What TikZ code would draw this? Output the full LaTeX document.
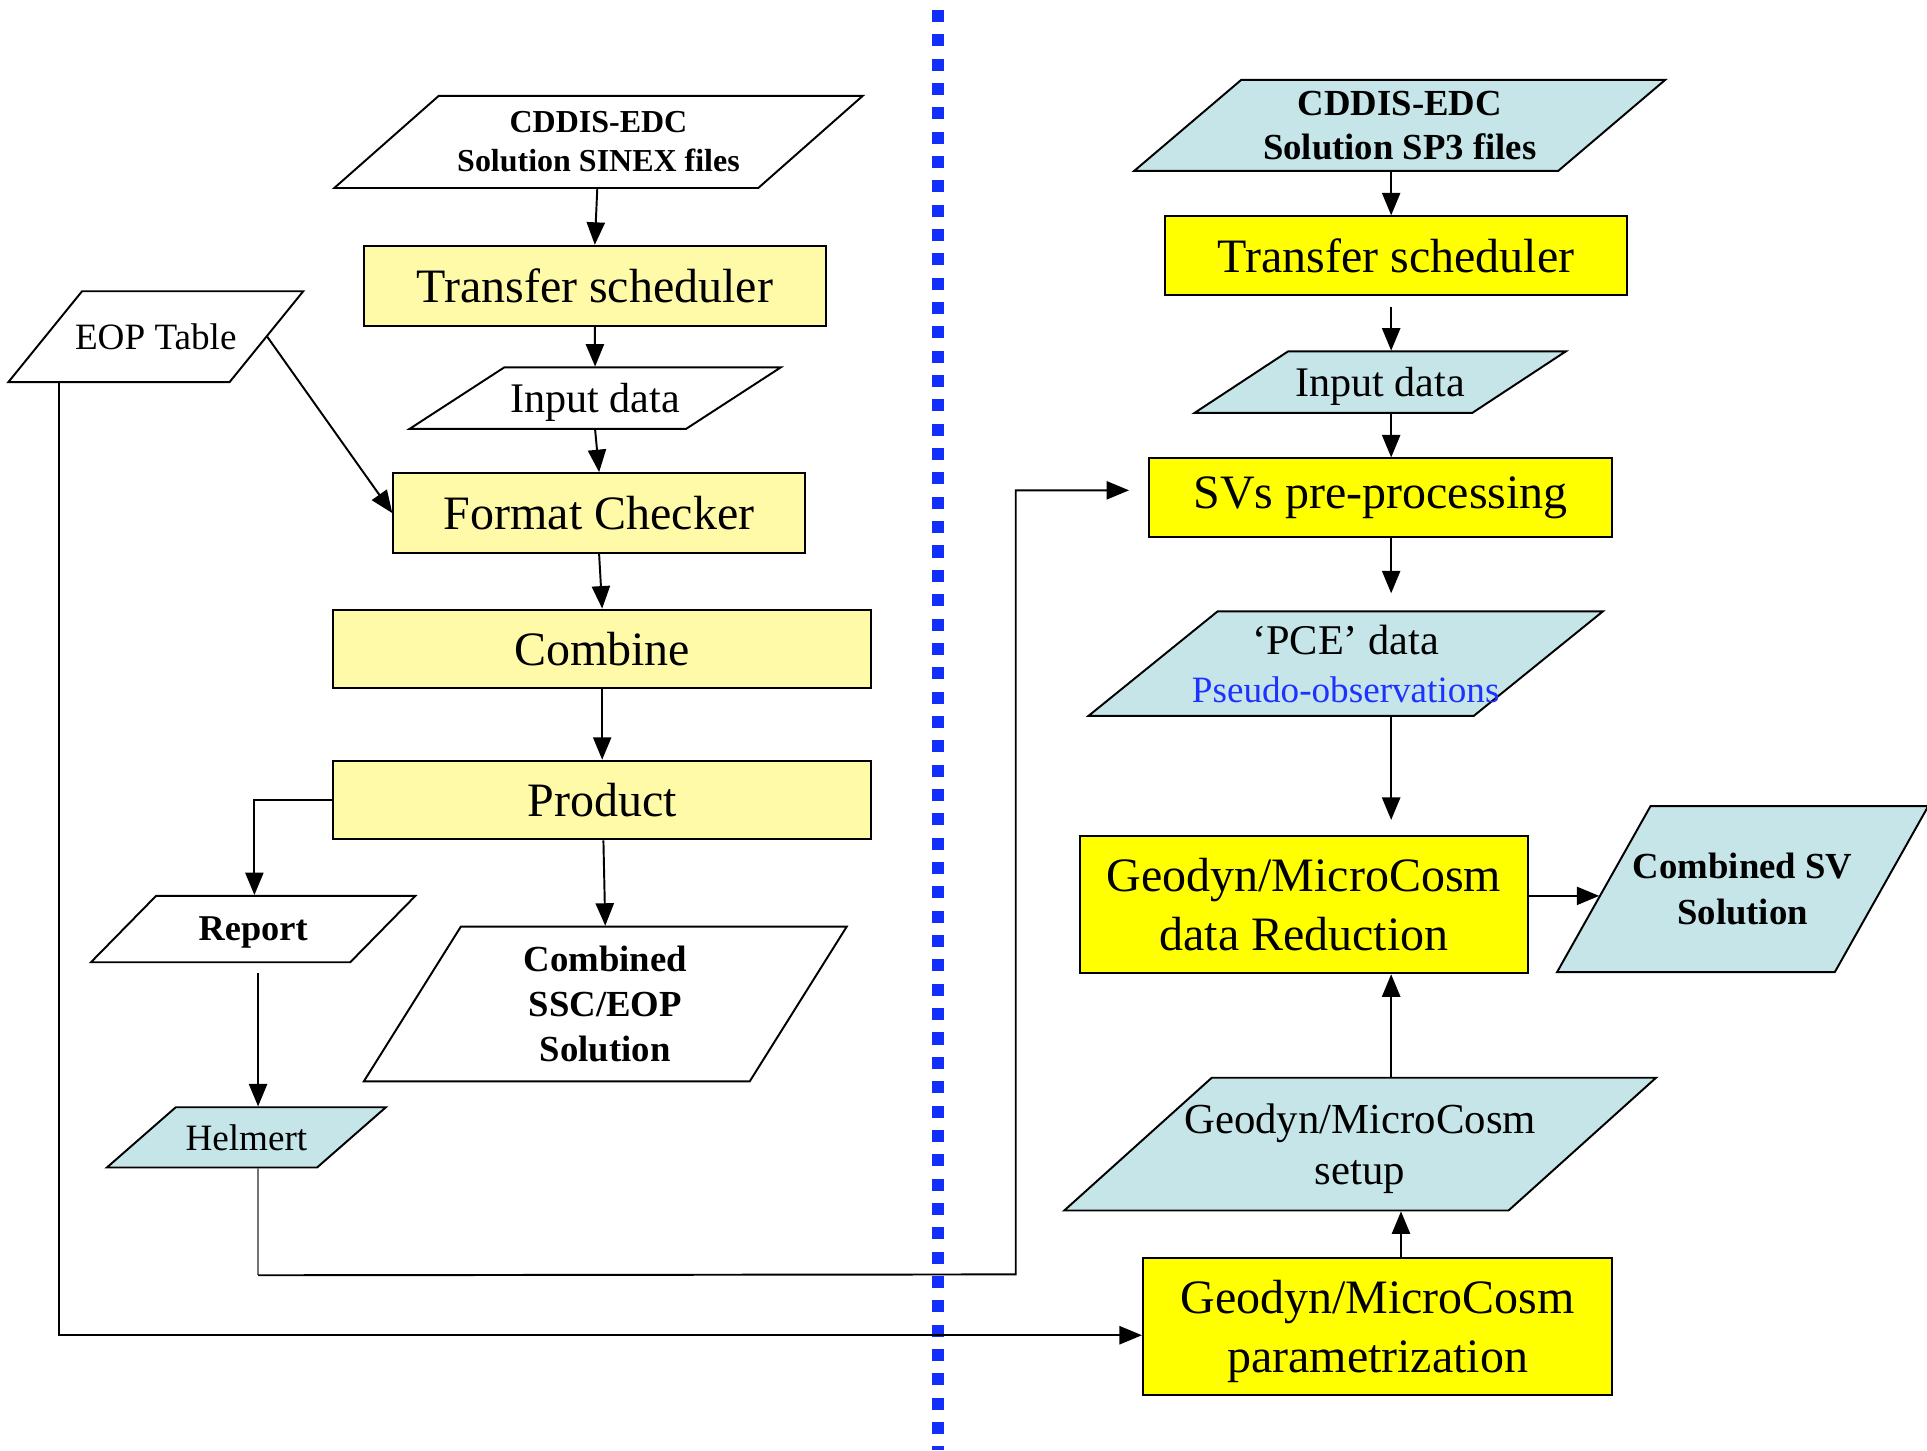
\documentclass[tikz,border=0pt]{standalone}
\usepackage{fontspec}
\setmainfont{Liberation Serif}
\usetikzlibrary{arrows.meta,calc}
\definecolor{lyellow}{RGB}{255,250,168}
\definecolor{dyellow}{RGB}{255,255,0}
\definecolor{lblue}{RGB}{197,229,232}
\definecolor{dotblue}{RGB}{18,46,252}
\definecolor{txtblue}{RGB}{30,50,255}
\newcommand\fsz[2]{\fontsize{#1pt}{#2pt}\selectfont}
\newcommand\parabox[9]{%
  \path[parashape, fill=#7] (#2-#4/2+#6/2, #3-#5/2) -- ++(#4,0) -- ++(-#6,#5) -- ++(-#4,0) -- cycle;
  \node[txt, #8, minimum width=#4*0.01cm, minimum height=#5*0.01cm] (#1) at (#2,#3) {#9};
}
\tikzset{
  parashape/.style={draw=black, line width=0.45pt, line join=miter},
  txt/.style={inner sep=0pt, align=center},
  rbox/.style={draw=black, line width=0.45pt, inner sep=0pt, align=center},
  arr/.style={-{Triangle[length=5.2pt,width=4.2pt]}, line width=0.45pt},
  dotline/.style={draw=dotblue, line width=0.098cm, dash pattern=on 0.098cm off 0.1cm},
  big/.style={font=\fsz{11.1}{13.6}},
}
\begin{document}
\begin{tikzpicture}[x=0.01cm, y=-0.01cm]
\useasboundingbox[fill=white] (0,0) rectangle (1568,1180);

% separator
\draw[dotline] (763,8) -- (763,1180);

% ---------- left column ----------
\parabox{sinex}{487}{115.5}{345}{75}{85}{white}{font=\fsz{7.4}{9.1}\bfseries}{CDDIS-EDC\\ Solution SINEX files}
\node[rbox, big, fill=lyellow, minimum width=376*0.01cm, minimum height=65*0.01cm] (ts1) at (484,232.5) {Transfer scheduler};
\parabox{in1}{484.25}{324}{225}{50}{77}{white}{font=\fsz{9.75}{11}, text depth=0pt}{Input data}
\node[rbox, big, fill=lyellow, minimum width=335*0.01cm, minimum height=65*0.01cm] (fc) at (487.5,417.5) {Format Checker};
\node[rbox, big, fill=lyellow, minimum width=438*0.01cm, minimum height=64*0.01cm] (comb) at (490,528) {Combine};
\node[rbox, big, fill=lyellow, minimum width=438*0.01cm, minimum height=64*0.01cm] (prod) at (490,651) {Product};
\parabox{eop}{126.75}{274}{180}{74}{60}{white}{font=\fsz{8.6}{10}}{EOP Table}
\parabox{report}{206}{756}{211}{54}{53}{white}{font=\fsz{8.4}{10}\bfseries, text depth=0pt}{Report}
\parabox{ssc}{492.5}{817}{314}{126}{79}{white}{font=\fsz{8.5}{10.4}\bfseries}{Combined\\ SSC/EOP\\ Solution}
\parabox{helm}{200.5}{925.5}{171}{49}{56}{lblue}{font=\fsz{8.6}{10}}{Helmert}

% ---------- right column ----------
\parabox{sp3}{1139}{102}{345}{74}{87}{lblue}{font=\fsz{8.5}{10.2}\bfseries}{CDDIS-EDC\\ Solution SP3 files}
\node[rbox, big, fill=dyellow, minimum width=376*0.01cm, minimum height=64*0.01cm] (ts2) at (1136,208) {Transfer scheduler};
\parabox{in2}{1123}{311}{226}{50}{76}{lblue}{font=\fsz{9.75}{11}, text depth=0pt}{Input data}
\node[rbox, big, fill=dyellow, minimum width=377*0.01cm, minimum height=64*0.01cm] (svs) at (1123.5,405) {SVs pre-processing};
\parabox{pce}{1095}{540}{313.5}{85}{105}{lblue}{font=\fsz{9.8}{11.1}}{`PCE' data\\ {\fsz{8.6}{11.1}\color{txtblue}Pseudo-observations}}
\node[rbox, big, fill=dyellow, minimum width=364*0.01cm, minimum height=112*0.01cm] (geored) at (1061,736) {Geodyn/MicroCosm\\ data Reduction};
\parabox{csv}{1418}{723.5}{226}{135}{76}{lblue}{font=\fsz{8.5}{10.5}\bfseries}{Combined SV\\ Solution}
\parabox{setup}{1106.75}{931}{361.5}{108}{120}{lblue}{font=\fsz{9.9}{11.9}, text depth=0pt}{Geodyn/MicroCosm\\ setup}
\node[rbox, big, text depth=0pt, fill=dyellow, minimum width=382*0.01cm, minimum height=111*0.01cm] (param) at (1121,1079.5) {Geodyn/MicroCosm\\ parametrization};

% ---------- connectors left ----------
\draw[arr] ($(sinex.south)+(-1,0)$) -- (ts1.north);
\draw[arr] (ts1.south) -- (in1.north);
\draw[arr] (in1.south) -- (fc.north);
\draw[arr] (fc.south) -- (comb.north);
\draw[arr] (comb.south) -- (prod.north);
\draw[arr] ($(prod.south)+(1,0)$) -- (ssc.north);
\coordinate (rtop) at ($(report.north)+(1,0)$);
\draw[arr] (prod.west) -| (rtop);
\coordinate (rbot) at ($(report.south)+(4,8)$);
\draw[arr] (rbot) -- (rbot |- helm.north);
\draw[arr] (eop.east) -- (fc.west);
\coordinate (eopb) at ($(eop.south west)+(12.25,0)$);
\coordinate (parw) at ($(param.west)+(0,7)$);
\draw[arr] (eopb) |- (parw);
\coordinate (hb0) at ($(helm.south)+(9.5,0)$);
\coordinate (hb1) at ($(helm.south)+(9.5,87)$);
\coordinate (hb2) at (826.5,1037);
\coordinate (svw) at ($(svs.west)+(-15.5,-6)$);
\draw[line width=0.35pt, draw=black!55] (hb0) -- (hb1);
\draw[arr] (hb1) -- (hb2) |- (svw);

% ---------- connectors right ----------
\coordinate (xr) at (1132,0);
\draw[arr] (sp3.south -| xr) -- (ts2.north -| xr);
\coordinate (tsb) at ($(ts2.south -| xr)+(0,9)$);
\draw[arr] (tsb) -- (in2.north -| xr);
\draw[arr] (in2.south -| xr) -- (svs.north -| xr);
\draw[arr, shorten >=0.14cm] (svs.south -| xr) -- (pce.north -| xr);
\draw[arr, shorten >=0.12cm] (pce.south -| xr) -- (geored.north -| xr);
\draw[arr] (setup.north -| xr) -- (geored.south -| xr);
\coordinate (pn) at ($(param.north)+(19,0)$);
\draw[arr] (pn) -- (pn |- setup.south);
\coordinate (gre) at ($(geored.east)+(0,-7)$);
\coordinate (csvw) at ($(csv.west)+(-3,5.5)$);
\draw[arr] (gre) -- (csvw);
\end{tikzpicture}
\end{document}
